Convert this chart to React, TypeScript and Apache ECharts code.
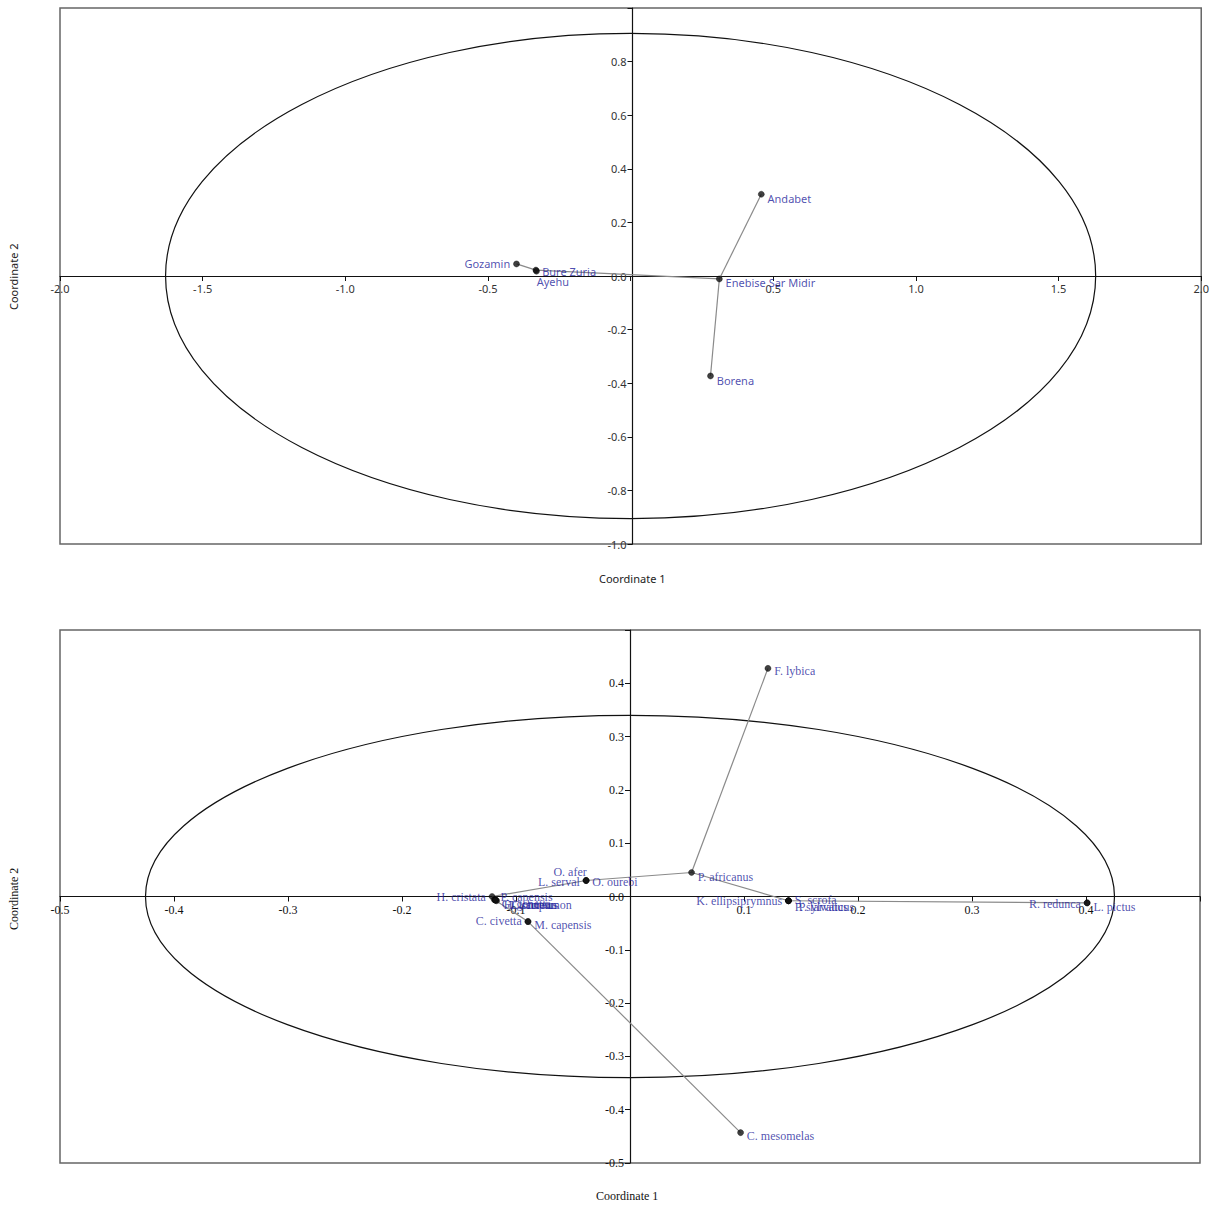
import React, { useEffect, useRef } from "react";
import * as echarts from "echarts";

// ---- Top chart (sites) ----
const siteNames = ["Gozamin", "Bure Zuria", "Ayehu", "Andabet", "Enebise Sar Midir", "Borena"];
const siteX = [-0.40, -0.332, -0.330, 0.458, 0.311, 0.280];
const siteY = [0.045, 0.022, 0.018, 0.305, -0.011, -0.373];
const siteEdges: [string, string][] = [
  ["Gozamin", "Bure Zuria"],
  ["Bure Zuria", "Ayehu"],
  ["Bure Zuria", "Enebise Sar Midir"],
  ["Enebise Sar Midir", "Andabet"],
  ["Enebise Sar Midir", "Borena"],
];
const siteEllipse = [0, 0, 1.63, 0.905]; // cx, cy, semi-axis x, semi-axis y

// ---- Bottom chart (species) ----
const spNames = [
  "F. lybica", "P. africanus", "O. afer", "L. serval", "O. ourebi", "H. cristata",
  "P. capensis", "G. genetta", "H. ichneumon", "T. scriptus", "C. aureus",
  "C. civetta", "M. capensis", "C. mesomelas", "K. ellipsiprymnus", "S. scrofa",
  "P. sylvaticus", "P. larvatus", "R. redunca", "L. pictus",
];
const spX = [
  0.121, 0.054, -0.0385, -0.0385, -0.0385, -0.121,
  -0.119, -0.118, -0.118, -0.117, -0.118,
  -0.0895, -0.0895, 0.097, 0.139, 0.139,
  0.139, 0.139, 0.401, 0.401,
];
const spY = [
  0.428, 0.045, 0.030, 0.030, 0.030, 0.0,
  -0.006, -0.007, -0.006, -0.008, -0.007,
  -0.047, -0.047, -0.443, -0.008, -0.008,
  -0.008, -0.008, -0.012, -0.012,
];
const spEdges: [string, string][] = [
  ["F. lybica", "P. africanus"],
  ["P. africanus", "O. ourebi"],
  ["O. ourebi", "H. cristata"],
  ["H. cristata", "P. capensis"],
  ["P. capensis", "C. civetta"],
  ["C. civetta", "C. mesomelas"],
  ["P. africanus", "K. ellipsiprymnus"],
  ["K. ellipsiprymnus", "R. redunca"],
];
const spEllipse = [0, 0, 0.425, 0.34];

// label placement (styling)
const siteLabelPlace: Record<string, [string, number, number]> = {
  "Gozamin": ["left", 0, 0],
  "Bure Zuria": ["right", 0, 1],
  "Ayehu": ["right", -6, 10],
  "Andabet": ["right", 0, 4],
  "Enebise Sar Midir": ["right", 0, 4],
  "Borena": ["right", 0, 5],
};
const spLabelPlace: Record<string, [string, number, number]> = {
  "F. lybica": ["right", 0, 3],
  "P. africanus": ["right", 0, 4],
  "O. afer": ["top", -16, 4],
  "L. serval": ["left", 0, 1],
  "O. ourebi": ["right", 0, 1],
  "H. cristata": ["left", 0, 0],
  "P. capensis": ["right", 0, -3],
  "G. genetta": ["right", 0, 4],
  "H. ichneumon": ["right", 2, 5],
  "T. scriptus": ["right", 6, 4],
  "C. aureus": ["right", 10, 5],
  "C. civetta": ["left", 0, -1],
  "M. capensis": ["right", 0, 3],
  "C. mesomelas": ["right", 0, 3],
  "K. ellipsiprymnus": ["left", 0, 0],
  "S. scrofa": ["right", 0, -1],
  "P. sylvaticus": ["right", 0, 6],
  "P. larvatus": ["right", 4, 6],
  "R. redunca": ["left", 0, 1],
  "L. pictus": ["right", 0, 4],
};

const SANS = "'Noto Sans', 'Open Sans', sans-serif";
const SERIF = "'Liberation Serif', 'DejaVu Serif', serif";
const LABEL_BLUE = "#1f1f9c";

const near = (a: number, b: number) => Math.abs(a - b) < 1e-9;

function ellipseSeries(params: number[], axisIndex: number) {
  return {
    type: "custom",
    xAxisIndex: axisIndex,
    yAxisIndex: axisIndex,
    silent: true,
    clip: false,
    z: 1,
    data: [params],
    renderItem: (_p: any, api: any) => {
      const c = api.coord([api.value(0), api.value(1)]);
      const rx = api.size([api.value(2), 0])[0];
      const ry = api.size([0, api.value(3)])[1];
      return {
        type: "ellipse",
        shape: { cx: c[0], cy: c[1], rx, ry },
        style: { fill: "none", stroke: "#111", lineWidth: 1.2 },
      };
    },
  };
}

function edgeSeries(names: string[], xs: number[], ys: number[], edges: [string, string][], axisIndex: number) {
  const idx = (n: string) => names.indexOf(n);
  return {
    type: "lines",
    coordinateSystem: "cartesian2d",
    xAxisIndex: axisIndex,
    yAxisIndex: axisIndex,
    silent: true,
    z: 2,
    lineStyle: { color: "#8a8a8a", width: 1.2, opacity: 1 },
    data: edges.map(([a, b]) => ({
      coords: [
        [xs[idx(a)], ys[idx(a)]],
        [xs[idx(b)], ys[idx(b)]],
      ],
    })),
  };
}

function pointSeries(
  names: string[], xs: number[], ys: number[],
  place: Record<string, [string, number, number]>,
  axisIndex: number, font: string, size: number
) {
  return {
    type: "scatter",
    xAxisIndex: axisIndex,
    yAxisIndex: axisIndex,
    symbolSize: 6,
    z: 3,
    itemStyle: { color: "#111", borderColor: "#000", borderWidth: 0.5 },
    label: {
      show: true,
      formatter: "{b}",
      color: LABEL_BLUE,
      fontFamily: font,
      fontSize: size,
      distance: 3,
    },
    data: names.map((n, i) => {
      const p = place[n] || ["right", 0, 0];
      return {
        name: n,
        value: [xs[i], ys[i]],
        label: { position: p[0], offset: [p[1], p[2]] },
      };
    }),
  };
}

// axis placed at the other axis' zero via pixel offset (labels follow the line)
function makeXAxis(gridIndex: number, min: number, max: number, interval: number, hide: number[], font: string, size: number, color: string, zeroOffset: number) {
  return {
    type: "value",
    gridIndex,
    min,
    max,
    interval,
    position: "bottom",
    offset: zeroOffset,
    splitLine: { show: false },
    axisLine: { show: true, onZero: false, lineStyle: { color: "#111", width: 1.2 } },
    axisTick: { show: true, length: 5, lineStyle: { color: "#111" } },
    axisLabel: {
      color,
      fontFamily: font,
      fontSize: size,
      margin: 7,
      formatter: (v: number) => (hide.some((h) => near(h, v)) ? "" : v.toFixed(1)),
    },
  };
}

function makeYAxis(gridIndex: number, min: number, max: number, interval: number, hide: number[], font: string, size: number, color: string, zeroOffset: number) {
  return {
    type: "value",
    gridIndex,
    min,
    max,
    interval,
    position: "left",
    offset: zeroOffset,
    splitLine: { show: false },
    axisLine: { show: true, onZero: false, lineStyle: { color: "#111", width: 1.2 } },
    axisTick: { show: true, length: 5, lineStyle: { color: "#111" } },
    axisLabel: {
      color,
      fontFamily: font,
      fontSize: size,
      margin: 6,
      formatter: (v: number) => (hide.some((h) => near(h, v)) ? "" : v.toFixed(1)),
    },
  };
}

const G0 = { left: 60, top: 8, width: 1145, height: 536 };
const G1 = { left: 60, top: 630, width: 1140, height: 533 };

export default function App() {
  const ref = useRef<HTMLDivElement>(null);
  useEffect(() => {
    document.body.style.margin = "0";
    if (!ref.current) return;
    const chart = echarts.init(ref.current, null, { renderer: "svg" });
    // pixel distance from the grid edge to the zero line
    const zx0 = -G0.height * (0 - -1) / 2;
    const zy0 = -G0.width * (0 - -2) / 4;
    const zx1 = -G1.height * (0 - -0.5) / 1;
    const zy1 = -G1.width * (0 - -0.5) / 1;
    chart.setOption({
      animation: false,
      backgroundColor: "#ffffff",
      grid: [
        { ...G0, show: true, borderColor: "#666", borderWidth: 1.5, backgroundColor: "transparent" },
        { ...G1, show: true, borderColor: "#666", borderWidth: 1.5, backgroundColor: "transparent" },
      ],
      xAxis: [
        makeXAxis(0, -2, 2, 0.5, [0], SANS, 11, "#333", zx0),
        makeXAxis(1, -0.5, 0.5, 0.1, [0, 0.5], SERIF, 12, "#111", zx1),
      ],
      yAxis: [
        makeYAxis(0, -1, 1, 0.2, [1], SANS, 11, "#333", zy0),
        makeYAxis(1, -0.5, 0.5, 0.1, [0.5], SERIF, 12, "#111", zy1),
      ],
      graphic: [
        { type: "text", left: 599, top: 573, style: { text: "Coordinate 1", font: `11px ${SANS}`, fill: "#222" } },
        { type: "text", x: 8, y: 310, rotation: Math.PI / 2, style: { text: "Coordinate 2", font: `11px ${SANS}`, fill: "#222" } },
        { type: "text", left: 596, top: 1190, style: { text: "Coordinate 1", font: `12px ${SERIF}`, fill: "#111" } },
        { type: "text", x: 8, y: 930, rotation: Math.PI / 2, style: { text: "Coordinate 2", font: `12px ${SERIF}`, fill: "#111" } },
      ],
      series: [
        ellipseSeries(siteEllipse, 0),
        edgeSeries(siteNames, siteX, siteY, siteEdges, 0),
        pointSeries(siteNames, siteX, siteY, siteLabelPlace, 0, SANS, 11),
        ellipseSeries(spEllipse, 1),
        edgeSeries(spNames, spX, spY, spEdges, 1),
        pointSeries(spNames, spX, spY, spLabelPlace, 1, SERIF, 12),
      ],
    });
    return () => chart.dispose();
  }, []);
  return <div ref={ref} style={{ width: 1212, height: 1206 }} />;
}
